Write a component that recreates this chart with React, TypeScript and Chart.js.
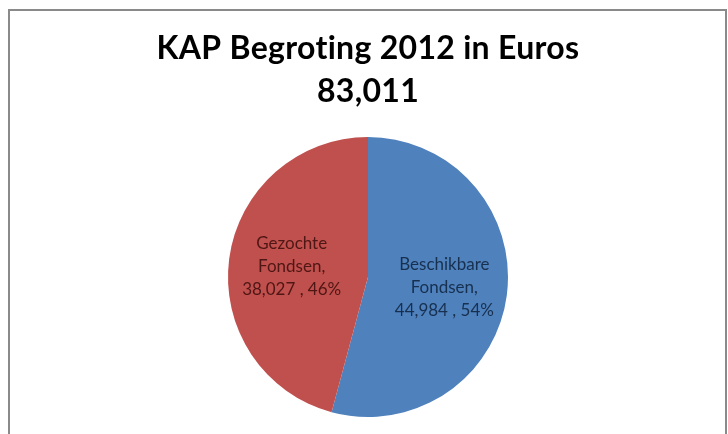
import React, { useEffect, useRef } from "react";
import { Chart, registerables } from "chart.js";

Chart.register(...registerables);

const titleLines = ["KAP Begroting 2012 in Euros", "83,011"];
const categories = ["Beschikbare Fondsen", "Gezochte Fondsen"];
const labelLines = [
  ["Beschikbare", "Fondsen,", "44,984 , 54%"],
  ["Gezochte", "Fondsen,", "38,027 , 46%"],
];
const values = [44984, 38027];
const colors = ["#4F81BD", "#C0504D"];
const labelColors = ["#17304F", "#4E1614"];

const overlayPlugin = {
  id: "overlay",
  afterDatasetsDraw(chart: any) {
    const ctx = chart.ctx;
    ctx.save();
    // title
    ctx.fillStyle = "#000";
    ctx.textAlign = "center";
    ctx.textBaseline = "alphabetic";
    ctx.font = "bold 32px Lato";
    (ctx as any).letterSpacing = "0.3px";
    ctx.fillText(titleLines[0], 368, 59);
    ctx.fillText(titleLines[1], 368, 102);
    (ctx as any).letterSpacing = "0px";
    // data labels
    const meta = chart.getDatasetMeta(0);
    ctx.font = "17px Lato";
    ctx.textBaseline = "middle";
    meta.data.forEach((el: any, i: number) => {
      const p = el.getProps(["x", "y", "startAngle", "endAngle", "outerRadius"], true);
      const mid = (p.startAngle + p.endAngle) / 2;
      const r = p.outerRadius * 0.55;
      const cx = p.x + Math.cos(mid) * r;
      const cy = p.y + Math.sin(mid) * r;
      const lines = labelLines[i];
      const lh = 23;
      ctx.fillStyle = labelColors[i];
      lines.forEach((t: string, j: number) => {
        ctx.fillText(t, cx, cy + (j - (lines.length - 1) / 2) * lh);
      });
    });
    ctx.restore();
  },
};

export default function App() {
  const ref = useRef<HTMLCanvasElement>(null);
  useEffect(() => {
    if (!ref.current) return;
    const chart = new Chart(ref.current, {
      type: "pie",
      data: {
        labels: categories,
        datasets: [
          {
            data: values,
            backgroundColor: colors,
            borderWidth: 0,
          },
        ],
      },
      options: {
        animation: false,
        responsive: false,
        devicePixelRatio: 1,
        layout: { padding: { top: 137, bottom: 17, left: 228, right: 220 } },
        plugins: {
          legend: { display: false },
          title: { display: false },
          tooltip: { enabled: false },
        },
      },
      plugins: [overlayPlugin],
    });
    return () => chart.destroy();
  }, []);
  return (
    <div style={{ position: "fixed", left: 0, top: 0, width: 728, height: 434, background: "#fff", overflow: "hidden" }}>
      <div
        style={{
          position: "absolute",
          left: 8,
          top: 9,
          width: 715,
          height: 440,
          border: "2px solid #8a8a8a",
          boxSizing: "content-box",
        }}
      />
      <canvas ref={ref} width={728} height={434} style={{ position: "absolute", left: 0, top: 0 }} />
    </div>
  );
}
